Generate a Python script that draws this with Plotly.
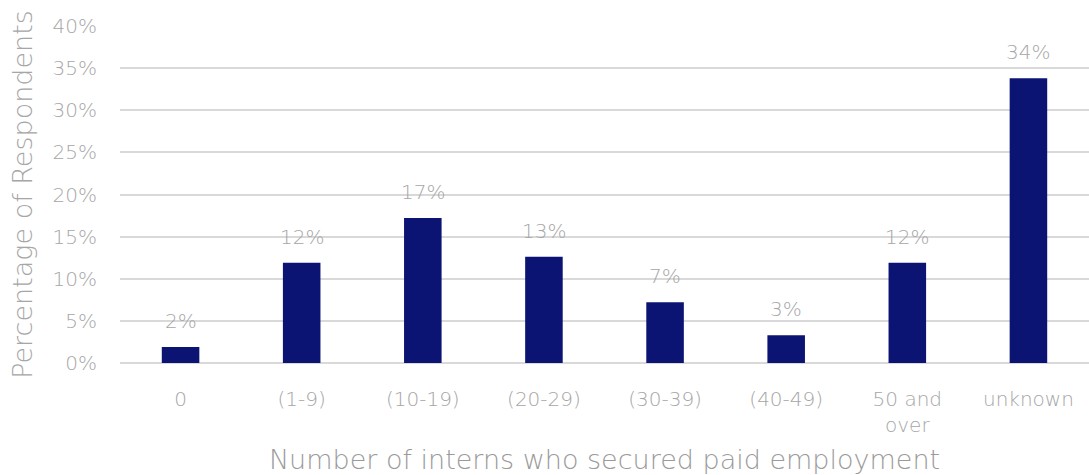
import plotly.graph_objects as go

categories = ["0", "(1-9)", "(10-19)", "(20-29)", "(30-39)", "(40-49)", "50 and<br>over", "unknown"]
percent_values = [1.9, 11.9, 17.2, 12.6, 7.2, 3.3, 11.9, 33.8]
y_ticks = [0, 5, 10, 15, 20, 25, 30, 35, 40]
y_tick_labels = [f"{t}%" for t in y_ticks]

FONT = "DejaVu Sans"
GREY = "#a6a6a6"

fig = go.Figure()
fig.add_trace(go.Bar(
    x=categories,
    y=percent_values,
    marker=dict(color="#0c1473", line=dict(width=0)),
    width=0.31,
    hoverinfo="skip",
))

# value labels above each bar
for cat, val in zip(categories, percent_values):
    fig.add_annotation(
        x=cat, y=val, text=f"{round(val)}%", showarrow=False,
        yanchor="bottom", yshift=12,
        font=dict(family=FONT, size=20, color=GREY, weight=200),
    )

fig.update_layout(
    width=1089, height=475,
    margin=dict(l=120, r=0, t=26, b=112),
    plot_bgcolor="white", paper_bgcolor="white",
    showlegend=False,
    bargap=0.69,
    font=dict(family=FONT, color=GREY, weight=200),
)
fig.update_xaxes(
    showgrid=False, showline=False, zeroline=False,
    tickfont=dict(family=FONT, size=20, color=GREY, weight=200),
    ticks="outside", ticklen=18, tickcolor="rgba(0,0,0,0)",
    title=dict(text="Number of interns who secured paid employment",
               font=dict(family=FONT, size=27, color="#9a9a9a", weight=200),
               standoff=17),
)
fig.update_yaxes(
    range=[0, 40], tickvals=y_ticks, ticktext=y_tick_labels,
    showgrid=True, gridcolor="#d9d9d9", gridwidth=2,
    zeroline=True, zerolinecolor="#d9d9d9", zerolinewidth=2,
    showline=False,
    tickfont=dict(family=FONT, size=20, color=GREY, weight=200),
    ticklabelstandoff=22,
    title=dict(text="Percentage of Respondents",
               font=dict(family=FONT, size=27, color=GREY, weight=200),
               standoff=12),
)

fig.write_html("out.html")
